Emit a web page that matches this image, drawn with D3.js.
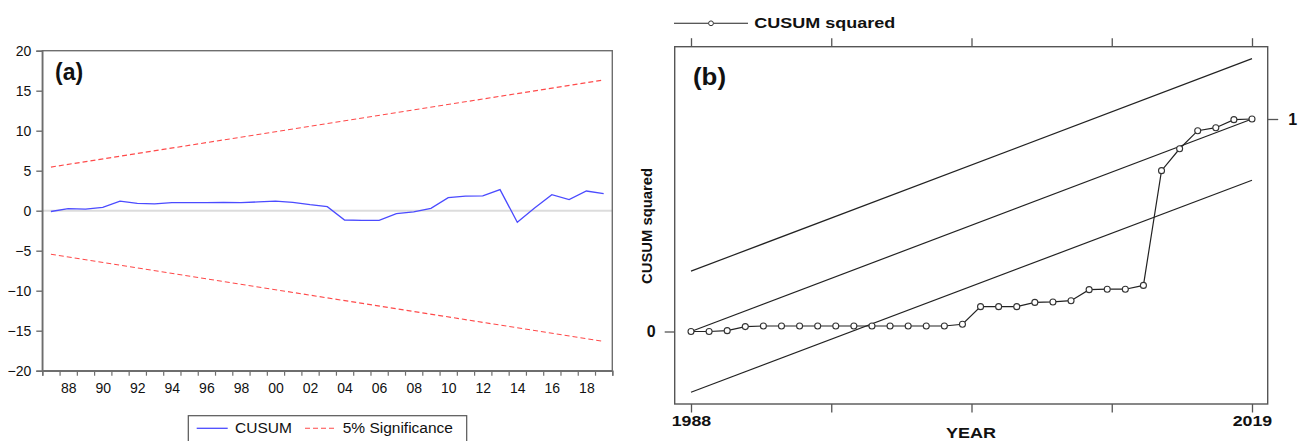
<!DOCTYPE html>
<html>
<head>
<meta charset="utf-8">
<script src="https://cdn.jsdelivr.net/npm/d3@7"></script>
<style>
  html, body { margin: 0; padding: 0; background: #fff; }
  svg { display: block; font-family: "Liberation Sans", Arial, sans-serif; }
</style>
</head>
<body>
<svg id="chart" width="1301" height="441"></svg>
<script>
// ---------- Panel (a) data ----------
const yearsA = d3.range(1987, 2020);
const cusum = [-0.1, 0.25, 0.2, 0.42, 1.2, 0.92, 0.85, 1.0, 1.0, 1.0, 1.05, 1.0, 1.1, 1.2, 1.05, 0.75, 0.5,
  -1.16, -1.2, -1.2, -0.37, -0.16, 0.3, 1.63, 1.83, 1.85, 2.63, -1.45, 0.35, 2.0, 1.38, 2.46, 2.13];
const sigYears = [1987, 2019];
const sigUpper = [5.45, 16.34];
const sigLower = [-5.45, -16.34];
const yTicksA = [-20, -15, -10, -5, 0, 5, 10, 15, 20];
const xLabelYearsA = d3.range(1988, 2019, 2);
const legendA = ["CUSUM", "5% Significance"];

// ---------- Panel (b) data ----------
const yearsB = d3.range(1988, 2020);
const cusumSq = [0, 0, 0.004, 0.023, 0.026, 0.026, 0.026, 0.026, 0.026, 0.026, 0.026, 0.026, 0.026, 0.026, 0.026,
  0.034, 0.117, 0.117, 0.117, 0.137, 0.139, 0.145, 0.197, 0.199, 0.199, 0.217, 0.757, 0.86, 0.945, 0.959, 0.997, 1.0];
const boundYears = [1988, 2019];
const boundMid = [0, 1];
const boundUpper = [0.284, 1.284];
const boundLower = [-0.286, 0.712];
const xTicksB = [1988, 1995.75, 2003.5, 2011.25, 2019];
const xTickLabelsB = ["1988", "", "", "", "2019"];
const yTicksB = [0, 1];

const svg = d3.select("#chart");

// ================= Panel (a) =================
const A = { l: 42.3, r: 612.3, t: 50.7, b: 370.7 };
const xA = d3.scaleLinear().domain([1986.5, 2019.5]).range([A.l, A.r]);
const yA = d3.scaleLinear().domain([-20, 20]).range([A.b, A.t]);
const gA = svg.append("g");

// zero line
gA.append("line").attr("x1", A.l).attr("x2", A.r).attr("y1", yA(0)).attr("y2", yA(0))
  .attr("stroke", "#dcdcdc").attr("stroke-width", 2);

// frame
gA.append("rect").attr("x", A.l).attr("y", A.t).attr("width", A.r - A.l).attr("height", A.b - A.t)
  .attr("fill", "none").attr("stroke", "#6e6e6e").attr("stroke-width", 1.4);

// y axis
const yAxisA = gA.append("g").attr("transform", `translate(${A.l},0)`)
  .call(d3.axisLeft(yA).tickValues(yTicksA).tickSize(6).tickPadding(5).tickFormat(d3.format("d")));
yAxisA.select(".domain").attr("stroke", "#6e6e6e").attr("stroke-width", 1.4);
yAxisA.selectAll(".tick line").attr("stroke", "#6e6e6e").attr("stroke-width", 1.4);
yAxisA.selectAll("text").attr("font-size", 14).attr("fill", "#111").attr("font-family", "Liberation Sans, Arial");

// x axis ticks at year boundaries
const bounds = d3.range(1986.5, 2020, 1);
const xAxisTicksA = gA.append("g").attr("transform", `translate(0,${A.b})`)
  .call(d3.axisBottom(xA).tickValues(bounds).tickSize(5).tickFormat(""));
xAxisTicksA.select(".domain").attr("stroke", "#6e6e6e").attr("stroke-width", 1.4);
xAxisTicksA.selectAll(".tick line").attr("stroke", "#6e6e6e").attr("stroke-width", 1.2);
// labels at year centers
const xAxisLabA = gA.append("g").attr("transform", `translate(0,${A.b})`)
  .call(d3.axisBottom(xA).tickValues(xLabelYearsA).tickSize(0).tickPadding(12)
    .tickFormat(d => String(d % 100).padStart(2, "0")));
xAxisLabA.select(".domain").remove();
xAxisLabA.selectAll("text").attr("font-size", 14).attr("fill", "#111").attr("font-family", "Liberation Sans, Arial");

// significance lines
const sigLine = (vals) => d3.line().x((d, i) => xA(sigYears[i])).y(d => yA(d))(vals);
[sigUpper, sigLower].forEach(v => {
  gA.append("path").attr("d", sigLine(v)).attr("fill", "none")
    .attr("stroke", "#ff4a4a").attr("stroke-width", 1.1).attr("stroke-dasharray", "5,3");
});

// cusum line
gA.append("path").datum(cusum)
  .attr("d", d3.line().x((d, i) => xA(yearsA[i])).y(d => yA(d)))
  .attr("fill", "none").attr("stroke", "#4b4bff").attr("stroke-width", 1.3);

// (a) label
gA.append("text").attr("x", 55).attr("y", 80).attr("font-size", 23).attr("font-weight", "bold")
  .attr("fill", "#111").text("(a)");

// legend (a)
const legA = gA.append("g");
legA.append("rect").attr("x", 188.3).attr("y", 415.7).attr("width", 278.4).attr("height", 40)
  .attr("fill", "#fff").attr("stroke", "#555").attr("stroke-width", 1.2);
legA.append("line").attr("x1", 196.7).attr("x2", 227.7).attr("y1", 428.3).attr("y2", 428.3)
  .attr("stroke", "#4b4bff").attr("stroke-width", 1.3);
legA.append("text").attr("x", 235).attr("y", 433).attr("font-size", 15.5).attr("fill", "#111").text(legendA[0]);
legA.append("line").attr("x1", 305).attr("x2", 336.7).attr("y1", 428.3).attr("y2", 428.3)
  .attr("stroke", "#ff4a4a").attr("stroke-width", 1.1).attr("stroke-dasharray", "5,3");
legA.append("text").attr("x", 342.7).attr("y", 433).attr("font-size", 15.5).attr("fill", "#111").text(legendA[1]);

// ================= Panel (b) =================
const B = { l: 674.7, r: 1267.7, t: 46.7, b: 404 };
const xB = d3.scaleLinear().domain([1988, 2019]).range([691, 1252]);
const yB = d3.scaleLinear().domain([0, 1]).range([331.5, 119]);
const gB = svg.append("g");
const axisCol = "#555";

gB.append("rect").attr("x", B.l).attr("y", B.t).attr("width", B.r - B.l).attr("height", B.b - B.t)
  .attr("fill", "none").attr("stroke", axisCol).attr("stroke-width", 1.4);

// bottom axis
const xAxisB = gB.append("g").attr("transform", `translate(0,${B.b})`)
  .call(d3.axisBottom(xB).tickValues(xTicksB).tickSize(8.5).tickPadding(3)
    .tickFormat((d, i) => xTickLabelsB[i]));
xAxisB.select(".domain").remove();
xAxisB.selectAll(".tick line").attr("stroke", axisCol).attr("stroke-width", 1.3);
xAxisB.selectAll("text").attr("font-size", 15).attr("font-weight", "bold").attr("fill", "#111")
  .attr("font-family", "Liberation Sans, Arial")
  .attr("textLength", d => d === 1988 || d === 2019 ? 39.5 : null)
  .attr("lengthAdjust", "spacingAndGlyphs");
// top axis (ticks only)
const xAxisBT = gB.append("g").attr("transform", `translate(0,${B.t})`)
  .call(d3.axisTop(xB).tickValues(xTicksB).tickSize(8.5).tickFormat(""));
xAxisBT.select(".domain").remove();
xAxisBT.selectAll(".tick line").attr("stroke", axisCol).attr("stroke-width", 1.3);

// left axis
const yAxisBL = gB.append("g").attr("transform", `translate(${B.l},0)`)
  .call(d3.axisLeft(yB).tickValues([yTicksB[0]]).tickSize(10).tickPadding(9).tickFormat(d3.format("d")));
yAxisBL.select(".domain").remove();
yAxisBL.selectAll(".tick line").attr("stroke", axisCol).attr("stroke-width", 1.3);
yAxisBL.selectAll("text").attr("font-size", 16).attr("font-weight", "bold").attr("fill", "#111")
  .attr("font-family", "Liberation Sans, Arial");
// right axis
const yAxisBR = gB.append("g").attr("transform", `translate(${B.r},0)`)
  .call(d3.axisRight(yB).tickValues([yTicksB[1]]).tickSize(10.5).tickPadding(10).tickFormat(d3.format("d")));
yAxisBR.select(".domain").remove();
yAxisBR.selectAll(".tick line").attr("stroke", axisCol).attr("stroke-width", 1.3);
yAxisBR.selectAll("text").attr("font-size", 16).attr("font-weight", "bold").attr("fill", "#111")
  .attr("font-family", "Liberation Sans, Arial");

// bound lines
const bLine = (vals) => d3.line().x((d, i) => xB(boundYears[i])).y(d => yB(d))(vals);
[boundUpper, boundMid, boundLower].forEach(v => {
  gB.append("path").attr("d", bLine(v)).attr("fill", "none").attr("stroke", "#222").attr("stroke-width", 1.2);
});

// cusum squared
gB.append("path").datum(cusumSq)
  .attr("d", d3.line().x((d, i) => xB(yearsB[i])).y(d => yB(d)))
  .attr("fill", "none").attr("stroke", "#222").attr("stroke-width", 1.2);
gB.selectAll("circle.pt").data(cusumSq).join("circle").attr("class", "pt")
  .attr("cx", (d, i) => xB(yearsB[i])).attr("cy", d => yB(d)).attr("r", 3)
  .attr("fill", "#fff").attr("stroke", "#333").attr("stroke-width", 1.1);

// (b) label
gB.append("text").attr("x", 693).attr("y", 85).attr("font-size", 23).attr("font-weight", "bold")
  .attr("fill", "#111").attr("textLength", 33).attr("lengthAdjust", "spacingAndGlyphs").text("(b)");

// axis titles
gB.append("text").attr("x", 971).attr("y", 437.5).attr("text-anchor", "middle")
  .attr("font-size", 14.5).attr("font-weight", "bold").attr("fill", "#111")
  .attr("textLength", 50).attr("lengthAdjust", "spacingAndGlyphs").text("YEAR");
gB.append("text").attr("transform", "translate(651.5,226) rotate(-90)").attr("text-anchor", "middle")
  .attr("font-size", 14.5).attr("font-weight", "bold").attr("fill", "#111")
  .attr("textLength", 116).attr("lengthAdjust", "spacingAndGlyphs").text("CUSUM squared");

// legend (b)
const legB = gB.append("g");
legB.append("line").attr("x1", 674).attr("x2", 748).attr("y1", 23.3).attr("y2", 23.3)
  .attr("stroke", "#222").attr("stroke-width", 1.1);
legB.append("circle").attr("cx", 711).attr("cy", 23.3).attr("r", 2.4)
  .attr("fill", "#fff").attr("stroke", "#333").attr("stroke-width", 1);
legB.append("text").attr("x", 754.3).attr("y", 27.5).attr("font-size", 15).attr("font-weight", "bold")
  .attr("fill", "#111").attr("textLength", 141).attr("lengthAdjust", "spacingAndGlyphs").text("CUSUM squared");
</script>
</body>
</html>
